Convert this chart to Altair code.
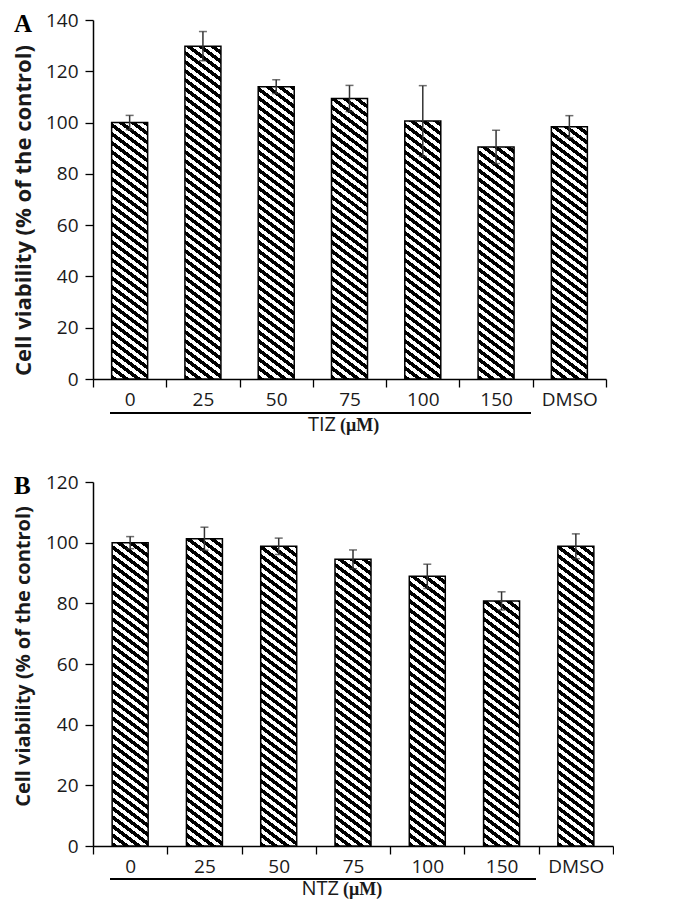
import altair as alt
import pandas as pd

categories = ["0", "25", "50", "75", "100", "150", "DMSO"]
tiz_mean = [100.0, 129.8, 114.0, 109.4, 100.6, 90.5, 98.4]
tiz_err = [2.8, 5.7, 2.7, 5.1, 13.8, 6.5, 4.3]
ntz_mean = [100.0, 101.3, 98.8, 94.5, 88.9, 80.8, 98.8]
ntz_err = [2.0, 3.8, 2.7, 3.1, 4.0, 3.0, 4.1]

BAR_W = 36
PERIOD = 9.0   # vertical stripe period (px)
SLOPE = 0.75   # stripe slope (down-right)
SANS = "Open Sans"
SERIF = "Liberation Serif"


def hatch(w, h, period=PERIOD, s=SLOPE):
    L = s * w + h
    stops = []
    k = 0
    while k * period < L:
        a = k * period / L
        b = min(1.0, (k + 0.5) * period / L)
        c = min(1.0, (k + 1) * period / L)
        stops += [
            alt.GradientStop(offset=a, color="black"),
            alt.GradientStop(offset=b, color="black"),
            alt.GradientStop(offset=b, color="white"),
            alt.GradientStop(offset=c, color="white"),
        ]
        k += 1
    kk = (s / h + 1 / w) / ((s / h) ** 2 + (1 / w) ** 2)
    gx, gy = kk * s / h, -kk / w
    return alt.LinearGradient(gradient="linear", stops=stops,
                              x1=0, y1=1, x2=gx, y2=1 + gy)


def one_row():
    return pd.DataFrame({"a": [0]})


def panel(means, errs, ymax, plot_w, plot_h, letter, drug, lay):
    df = pd.DataFrame({
        "cat": categories,
        "mean": means,
        "lo": [m - e for m, e in zip(means, errs)],
        "hi": [m + e for m, e in zip(means, errs)],
    })
    x = alt.X("cat:N", sort=categories,
              scale=alt.Scale(domain=categories, paddingInner=0, paddingOuter=0),
              axis=alt.Axis(title=None, labelAngle=0, labelFont=SANS, labelFontSize=19,
                            labelColor="#1a1a1a", tickBand="extent", tickSize=8,
                            tickColor="black", domainColor="black", tickWidth=1.3,
                            domainWidth=1.5, labelPadding=3, grid=False))
    y = alt.Y("mean:Q", scale=alt.Scale(domain=[0, ymax], nice=False),
              axis=alt.Axis(title="Cell viability (% of the control)", titleFont=SANS,
                            titleFontSize=lay["tfs"], titleFontWeight="bold",
                            titleColor="#1a1a1a", titleX=-70, titleY=lay["tyc"],
                            titleBaseline="middle",
                            values=list(range(0, ymax + 1, 20)), labelFont=SANS,
                            labelFontSize=19, labelColor="#1a1a1a", tickSize=8,
                            tickColor="black", domainColor="black", tickWidth=1.3,
                            domainWidth=1.5, labelPadding=7, grid=False))
    layers = []
    for c, m in zip(categories, means):
        h = m / ymax * plot_h
        layers.append(
            alt.Chart(df).transform_filter(alt.datum.cat == c)
            .mark_bar(fill=hatch(BAR_W, h), stroke="black", strokeWidth=1.5, width=BAR_W)
            .encode(x=x, y=y)
        )
    err = alt.Chart(df).mark_rule(color="#333333", strokeWidth=1.5).encode(
        x=x, y=alt.Y("lo:Q"), y2="hi:Q")
    cap_hi = alt.Chart(df).mark_tick(color="#333333", thickness=1.5, size=8,
                                     orient="horizontal").encode(x=x, y=alt.Y("hi:Q"))
    cap_lo = alt.Chart(df).mark_tick(color="#333333", thickness=1.5, size=8,
                                     orient="horizontal").encode(x=x, y=alt.Y("lo:Q"))
    bracket = alt.Chart(one_row()).mark_rule(color="black", strokeWidth=1.8).encode(
        x=alt.value(lay["bx1"]), x2=alt.value(lay["bx2"]), y=alt.value(lay["by"]))
    t1 = alt.Chart(one_row()).mark_text(text=drug, font=SANS, fontSize=20, align="right",
                                        baseline="alphabetic", color="#1a1a1a").encode(
        x=alt.value(lay["tx"]), y=alt.value(lay["ty"]))
    t2 = alt.Chart(one_row()).mark_text(text="(μM)", font=SERIF, fontSize=18,
                                        fontWeight="bold", align="left",
                                        baseline="alphabetic", color="#1a1a1a").encode(
        x=alt.value(lay["tx"] + 4), y=alt.value(lay["ty"]))
    lt = alt.Chart(one_row()).mark_text(text=letter, font=SERIF, fontSize=25,
                                        fontWeight="bold", align="left",
                                        baseline="top", color="black").encode(
        x=alt.value(lay["lx"]), y=alt.value(lay["ly"]))
    return alt.layer(*layers, err, cap_hi, cap_lo, bracket, t1, t2, lt).properties(
        width=plot_w, height=plot_h)


top = panel(tiz_mean, tiz_err, 140, 513, 359, "A", "TIZ",
            dict(bx1=17, bx2=438, by=393, tx=243, ty=411, lx=-79, ly=-8,
                 tfs=22, tyc=190))
bottom = panel(ntz_mean, ntz_err, 120, 520, 364, "B", "NTZ",
               dict(bx1=17, bx2=443, by=397, tx=246, ty=413, lx=-79, ly=-8,
                    tfs=20, tyc=174))

chart = alt.vconcat(top, bottom, spacing=38).properties(
    padding={"top": 3, "left": 3, "right": 0, "bottom": 2},
    background="white").configure_view(strokeWidth=0, stroke=None)

chart.save("out.html", embed_options={"renderer": "svg", "actions": False})
